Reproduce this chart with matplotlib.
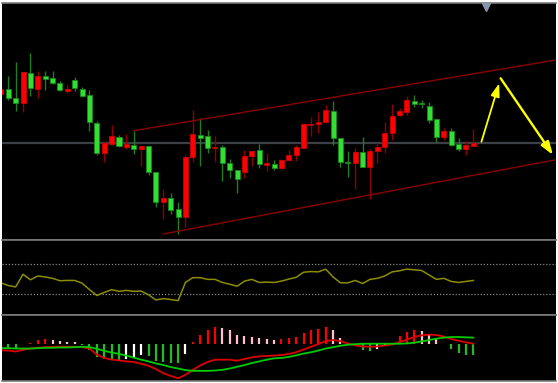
import numpy as np
import matplotlib
matplotlib.use("Agg")
import matplotlib.pyplot as plt

# bar index -1 is the half-hidden candle at the left edge
bars = list(range(-1, 64))

opens = [155.7, 160.7, 151.7, 146.7, 177.0, 160.7, 174.0, 172.0, 166.7, 159.3, 170.3, 161.3, 154.7,
         127.5, 96.7, 106.0, 113.0, 103.3, 104.7, 101.0, 104.0, 78.3, 48.3, 52.3, 41.0, 33.3,
         92.7, 114.7, 113.7, 102.2, 102.7, 86.7, 79.7, 78.3, 94.3, 99.7, 84.7, 86.0, 81.7,
         90.0, 95.3, 102.3, 125.3, 126.3, 128.0, 139.3, 112.0, 88.2, 86.7, 97.7, 83.3, 99.0,
         102.7, 116.7, 135.0, 137.7, 149.3, 146.8, 144.3, 131.0, 112.7, 119.3, 106.0, 100.7, 104.0]
highs = [163.0, 174.3, 188.3, 178.3, 196.7, 179.0, 179.0, 179.0, 169.0, 165.0, 173.3, 163.3, 160.0,
         129.5, 109.3, 125.0, 115.0, 116.0, 119.3, 103.7, 104.0, 78.3, 61.0, 57.3, 47.7, 95.0,
         140.0, 131.7, 120.0, 114.0, 105.0, 91.0, 79.7, 100.0, 99.0, 105.7, 97.3, 90.0, 91.0,
         100.0, 105.0, 126.7, 133.3, 138.3, 145.0, 149.0, 112.0, 99.3, 101.7, 112.7, 101.0, 107.3,
         128.3, 145.7, 141.7, 154.0, 155.0, 150.0, 148.3, 131.0, 121.7, 122.3, 111.7, 109.0, 120.7]
lows = [154.0, 150.0, 139.3, 138.3, 154.3, 151.7, 160.0, 165.7, 159.3, 157.3, 159.3, 153.3, 119.0,
        95.0, 88.3, 105.0, 102.7, 101.0, 96.0, 84.0, 75.0, 43.3, 30.7, 36.0, 16.0, 23.3,
        88.3, 84.3, 97.3, 88.3, 69.0, 72.3, 56.7, 71.7, 84.3, 81.7, 79.0, 80.5, 80.7,
        89.3, 89.3, 101.7, 114.0, 117.3, 127.3, 105.0, 82.7, 72.7, 60.7, 82.7, 51.0, 86.7,
        97.3, 110.0, 134.0, 135.0, 143.3, 141.7, 126.7, 108.3, 110.0, 104.0, 99.3, 95.0, 104.0]
closes = [161.0, 151.7, 146.7, 177.7, 161.7, 174.0, 171.3, 166.7, 159.7, 161.3, 161.7, 154.0, 128.3,
          97.0, 106.7, 114.0, 104.3, 105.7, 100.7, 103.7, 78.3, 48.0, 52.0, 40.0, 33.3, 92.7,
          116.0, 112.3, 102.3, 103.2, 87.3, 79.7, 70.7, 94.3, 99.0, 85.7, 86.7, 82.5, 90.0,
          95.3, 102.7, 125.7, 126.3, 128.0, 139.7, 111.7, 88.3, 87.2, 98.3, 83.3, 99.0, 102.7,
          116.7, 134.3, 139.0, 150.0, 145.7, 145.8, 130.0, 112.7, 119.0, 105.0, 100.7, 104.7, 107.3]

# trend channel and forecast arrows (bar index, price)
channel_upper = [(17, 119.3), (74.2, 190.0)]
channel_lower = [(21, 16.0), (74.2, 90.3)]
arrow_up = [(64.1, 108.3), (66.5, 166.7)]
arrow_down = [(66.7, 171.7), (73.8, 95.0)]
shift_marker_x = 64.7

oscillator = [44.5, 40.9, 39.1, 55.9, 48.6, 53.6, 52.3, 50.5, 47.3, 47.7, 47.7, 44.1, 35.5,
              27.7, 31.8, 35.5, 33.2, 34.5, 33.2, 33.6, 28.6, 21.8, 23.6, 22.3, 20.9, 45.0,
              51.4, 51.4, 49.1, 49.1, 45.0, 42.7, 40.0, 46.8, 49.1, 45.0, 45.5, 45.0, 46.8,
              49.5, 51.8, 58.6, 59.5, 59.1, 62.7, 52.3, 44.5, 44.5, 47.7, 43.6, 49.1, 50.5,
              53.6, 59.1, 60.5, 62.7, 61.8, 60.9, 55.0, 49.1, 50.5, 46.4, 45.0, 46.4, 47.7]
osc_levels = [70, 30]

macd_hist = [-3.3, -4.3, -4.7, 0.7, 1.7, 4.0, 5.0, 4.7, 3.3, 2.3, 2.0, -0.7, -5.0,
             -12.7, -14.7, -15.0, -15.7, -14.0, -13.3, -10.0, -11.7, -16.7, -17.0, -18.0, -18.3, -9.3,
             2.3, 9.3, 14.0, 16.7, 16.0, 14.0, 9.3, 8.3, 7.3, 6.7, 5.7, 4.3, 5.0,
             6.7, 7.7, 11.7, 14.0, 15.7, 17.3, 14.0, 6.7, 1.7, 0.3, -5.7, -6.0, -4.7,
             -1.7, -0.3, 8.3, 12.7, 14.3, 13.7, 10.0, 5.0, 0.7, -4.3, -8.3, -10.0, -10.7]
macd_red = [-5.7, -6.0, -7.0, -5.3, -4.0, -3.3, -2.7, -2.3, -2.3, -2.3, -2.3, -2.7, -4.0,
            -10.0, -13.3, -15.0, -15.7, -16.7, -17.3, -19.0, -21.0, -24.3, -28.3, -31.0, -33.3, -30.0,
            -25.0, -20.7, -17.3, -15.0, -15.0, -15.0, -16.0, -14.3, -12.7, -11.7, -11.3, -11.0, -10.5,
            -9.3, -7.7, -5.0, -2.3, 0.3, 3.3, 4.3, 3.3, 1.0, -1.0, -2.0, -2.3, -2.0,
            -1.0, 0.0, 2.3, 4.7, 7.3, 9.0, 9.7, 9.3, 7.7, 5.3, 3.7, 2.0, 0.7]
macd_green = [-3.7, -3.7, -4.0, -4.0, -4.0, -3.7, -3.3, -3.3, -3.0, -3.0, -2.7, -2.3, -2.7,
              -4.3, -6.3, -8.0, -9.3, -11.0, -13.0, -15.0, -16.7, -18.7, -20.3, -22.3, -23.7, -25.3,
              -26.0, -26.0, -26.0, -25.7, -25.0, -23.7, -22.0, -20.3, -18.3, -16.7, -15.0, -13.7, -13.3,
              -12.3, -10.7, -9.0, -7.7, -6.0, -4.0, -2.7, -1.3, -0.3, 0.3, 0.7, 0.7, 0.7,
              0.7, 0.7, 0.7, 1.0, 1.7, 3.0, 4.3, 5.7, 6.7, 7.3, 7.3, 7.0, 6.7]

W, H = 558, 383
XLIM = (-0.85, 74.2)
GRID = "#7a7a7a"


def panel(fig, top, bottom):
    ax = fig.add_axes([2 / W, (H - bottom) / H, 554 / W, (bottom - top) / H])
    ax.set_facecolor("black")
    ax.set_xlim(*XLIM)
    ax.set_xticks([])
    ax.set_yticks([])
    for side in ["left", "right"]:
        ax.spines[side].set_visible(False)
    for side in ["top", "bottom"]:
        ax.spines[side].set_color(GRID)
        ax.spines[side].set_linewidth(1.2)
    return ax


fig = plt.figure(figsize=(W / 100, H / 100), dpi=100, facecolor="white")

# price panel
ax = panel(fig, 3, 240)
ax.set_ylim(10, 247)
x = np.array(bars)
o = np.array(opens); c = np.array(closes)
up = c >= o
body_lo = np.minimum(o, c)
body_h = np.maximum(np.abs(c - o), 0.9)
wick_col = np.where(up, "#8f0000", "#1d7f1d")
ax.vlines(x, lows, highs, colors=wick_col, linewidth=1, zorder=2)
ax.bar(x[up], body_h[up], bottom=body_lo[up], width=0.68, color="#ff0000",
       edgecolor="#cc0000", linewidth=0.6, zorder=3)
ax.bar(x[~up], body_h[~up], bottom=body_lo[~up], width=0.68, color="#33dd33",
       edgecolor="#178a17", linewidth=0.6, zorder=3)
ax.axhline(closes[-1], color="#3c4046", linewidth=1.6, zorder=1)

for line in [channel_upper, channel_lower]:
    xs, ys = zip(*line)
    ax.plot(xs, ys, color="#8b0000", linewidth=1, zorder=4)

for arr, lw in [(arrow_up, 1.3), (arrow_down, 1.7)]:
    ax.annotate("", xy=arr[1], xytext=arr[0],
                arrowprops=dict(arrowstyle="-|>,head_length=0.65,head_width=0.22",
                                mutation_scale=12, color="#ffff00", lw=lw,
                                shrinkA=0, shrinkB=0), zorder=5)

ax.plot([shift_marker_x], [0.985], marker="v", markersize=6, color="#8797ab",
        transform=ax.get_xaxis_transform(), clip_on=False, zorder=6)

# oscillator panel
ax2 = panel(fig, 240, 315)
ax2.set_ylim(1.8, 101.4)
for lvl in osc_levels:
    ax2.axhline(lvl, color="#8a8a8a", linewidth=0.9, linestyle=(0, (1, 1.5)))
ax2.plot(bars, oscillator, color="#8c8c00", linewidth=1.1)

# macd panel
ax3 = panel(fig, 315, 381)
ax3.set_ylim(-36, 29)
hist_cols = []
prev = None
for v in macd_hist:
    rising = prev is None or v > prev
    if v >= 0:
        hist_cols.append("#ff0000" if rising else "#ffc0cb")
    else:
        hist_cols.append("#ffffff" if rising and prev is not None else "#22bb22")
    prev = v
ax3.vlines(bars, 0, macd_hist, colors=hist_cols, linewidth=1.6, zorder=2)
ax3.plot(bars, macd_red, color="#dd0000", linewidth=1.3, zorder=3)
ax3.plot(bars, macd_green, color="#00cc00", linewidth=1.3, zorder=3)

fig.savefig("out.png", dpi=100, facecolor="white")
